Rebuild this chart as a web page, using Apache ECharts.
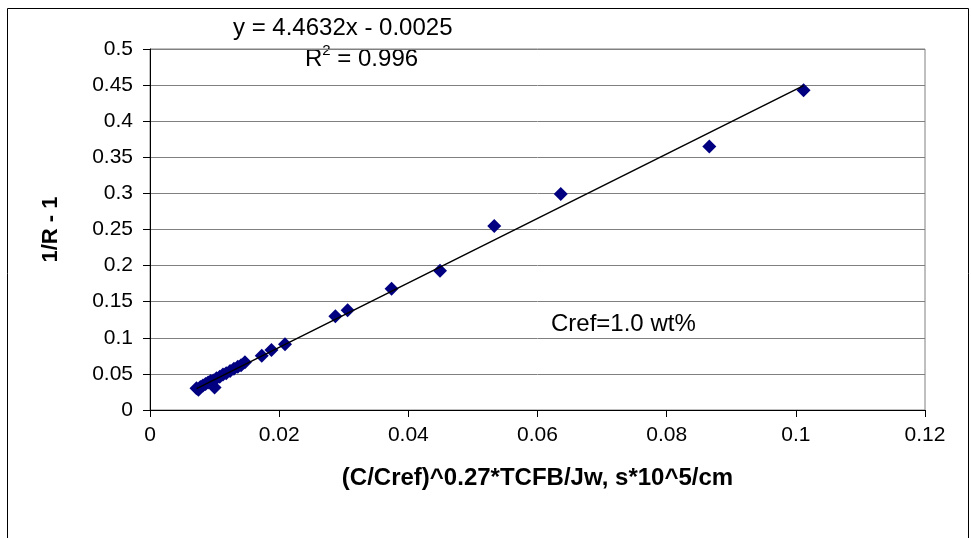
<!DOCTYPE html>
<html>
<head>
<meta charset="utf-8">
<script src="https://cdn.jsdelivr.net/npm/echarts@6/dist/echarts.min.js"></script>
<style>
  html, body { margin: 0; padding: 0; background: #fff; }
  #chart { width: 971px; height: 538px; }
</style>
</head>
<body>
<div id="chart"></div>
<script>
// measured points (x = (C/Cref)^0.27*TCFB/Jw, y = 1/R - 1)
const xValues = [0.0072, 0.0075, 0.0078, 0.0082, 0.0086, 0.0090, 0.0094, 0.0098, 0.0100,
  0.0103, 0.0108, 0.0113, 0.0118, 0.0124, 0.0130, 0.0136, 0.0141, 0.0147,
  0.0173, 0.0188, 0.0209, 0.0287, 0.0306, 0.0374, 0.0449, 0.0533, 0.0636, 0.0866, 0.1012];
const yValues = [0.030, 0.028, 0.032, 0.034, 0.036, 0.038, 0.040, 0.041, 0.031,
  0.044, 0.046, 0.049, 0.051, 0.054, 0.057, 0.060, 0.062, 0.066,
  0.075, 0.083, 0.091, 0.130, 0.138, 0.168, 0.193, 0.255, 0.299, 0.365, 0.443];

// linear trendline end points
const trendX = [0.0072, 0.1012];
const trendY = [0.0296, 0.4492];

const eqText = "y = 4.4632x - 0.0025";
const r2Value = "0.996";
const noteText = "Cref=1.0 wt%";

const chart = echarts.init(document.getElementById("chart"));

const font = "Liberation Sans, Arial, sans-serif";

const option = {
  animation: false,
  grid: { left: 150, top: 49, right: 46, bottom: 128, show: true, borderColor: "#808080", borderWidth: 1 },
  xAxis: {
    type: "value",
    min: 0, max: 0.12, interval: 0.02,
    name: "(C/Cref)^0.27*TCFB/Jw, s*10^5/cm",
    nameLocation: "middle",
    nameGap: 56,
    nameTextStyle: { fontFamily: font, fontSize: 24, fontWeight: "bold", color: "#000" },
    axisLine: { show: true, onZero: false, lineStyle: { color: "#000", width: 1 } },
    axisTick: { show: true, length: 7, lineStyle: { color: "#000" } },
    axisLabel: { fontFamily: font, fontSize: 21, color: "#000", margin: 15 },
    splitLine: { show: false }
  },
  yAxis: {
    type: "value",
    min: 0, max: 0.5, interval: 0.05,
    name: "1/R - 1",
    nameLocation: "middle",
    nameGap: 88,
    nameTextStyle: { fontFamily: font, fontSize: 22, fontWeight: "bold", color: "#000" },
    axisLine: { show: true, lineStyle: { color: "#000", width: 1 } },
    axisTick: { show: true, length: 7, lineStyle: { color: "#000" } },
    axisLabel: { fontFamily: font, fontSize: 21, color: "#000", margin: 17,
      formatter: v => String(+v.toFixed(2)) },
    splitLine: { show: true, lineStyle: { color: "#808080", width: 1 } }
  },
  series: [
    {
      type: "scatter",
      data: xValues.map((x, i) => [x, yValues[i]]),
      symbol: "diamond",
      symbolSize: 14,
      itemStyle: { color: "#000080", opacity: 1 },
      z: 2
    },
    {
      type: "line",
      data: trendX.map((x, i) => [x, trendY[i]]),
      showSymbol: false,
      lineStyle: { color: "#000", width: 1.5 },
      z: 3
    }
  ],
  graphic: [
    { type: "rect", shape: { x: 7.5, y: 8.5, width: 961, height: 540 },
      style: { fill: "none", stroke: "#000", lineWidth: 1 }, silent: true },
    { type: "text", left: 233, top: 16,
      style: { text: eqText, fontFamily: font, fontSize: 24, fill: "#000" } },
    {
      // R² label with superscript
      type: "text", left: 305, top: 43,
      style: {
        text: "{b|R}{s|2}{b| = " + r2Value + "}",
        rich: {
          b: { fontFamily: font, fontSize: 24, fill: "#000", verticalAlign: "bottom", lineHeight: 28 },
          s: { fontFamily: font, fontSize: 15, fill: "#000", verticalAlign: "top", lineHeight: 28 }
        }
      }
    },
    { type: "text", left: 551, top: 312,
      style: { text: noteText, fontFamily: font, fontSize: 24, fill: "#000" } }
  ]
};

chart.setOption(option);
</script>
</body>
</html>
